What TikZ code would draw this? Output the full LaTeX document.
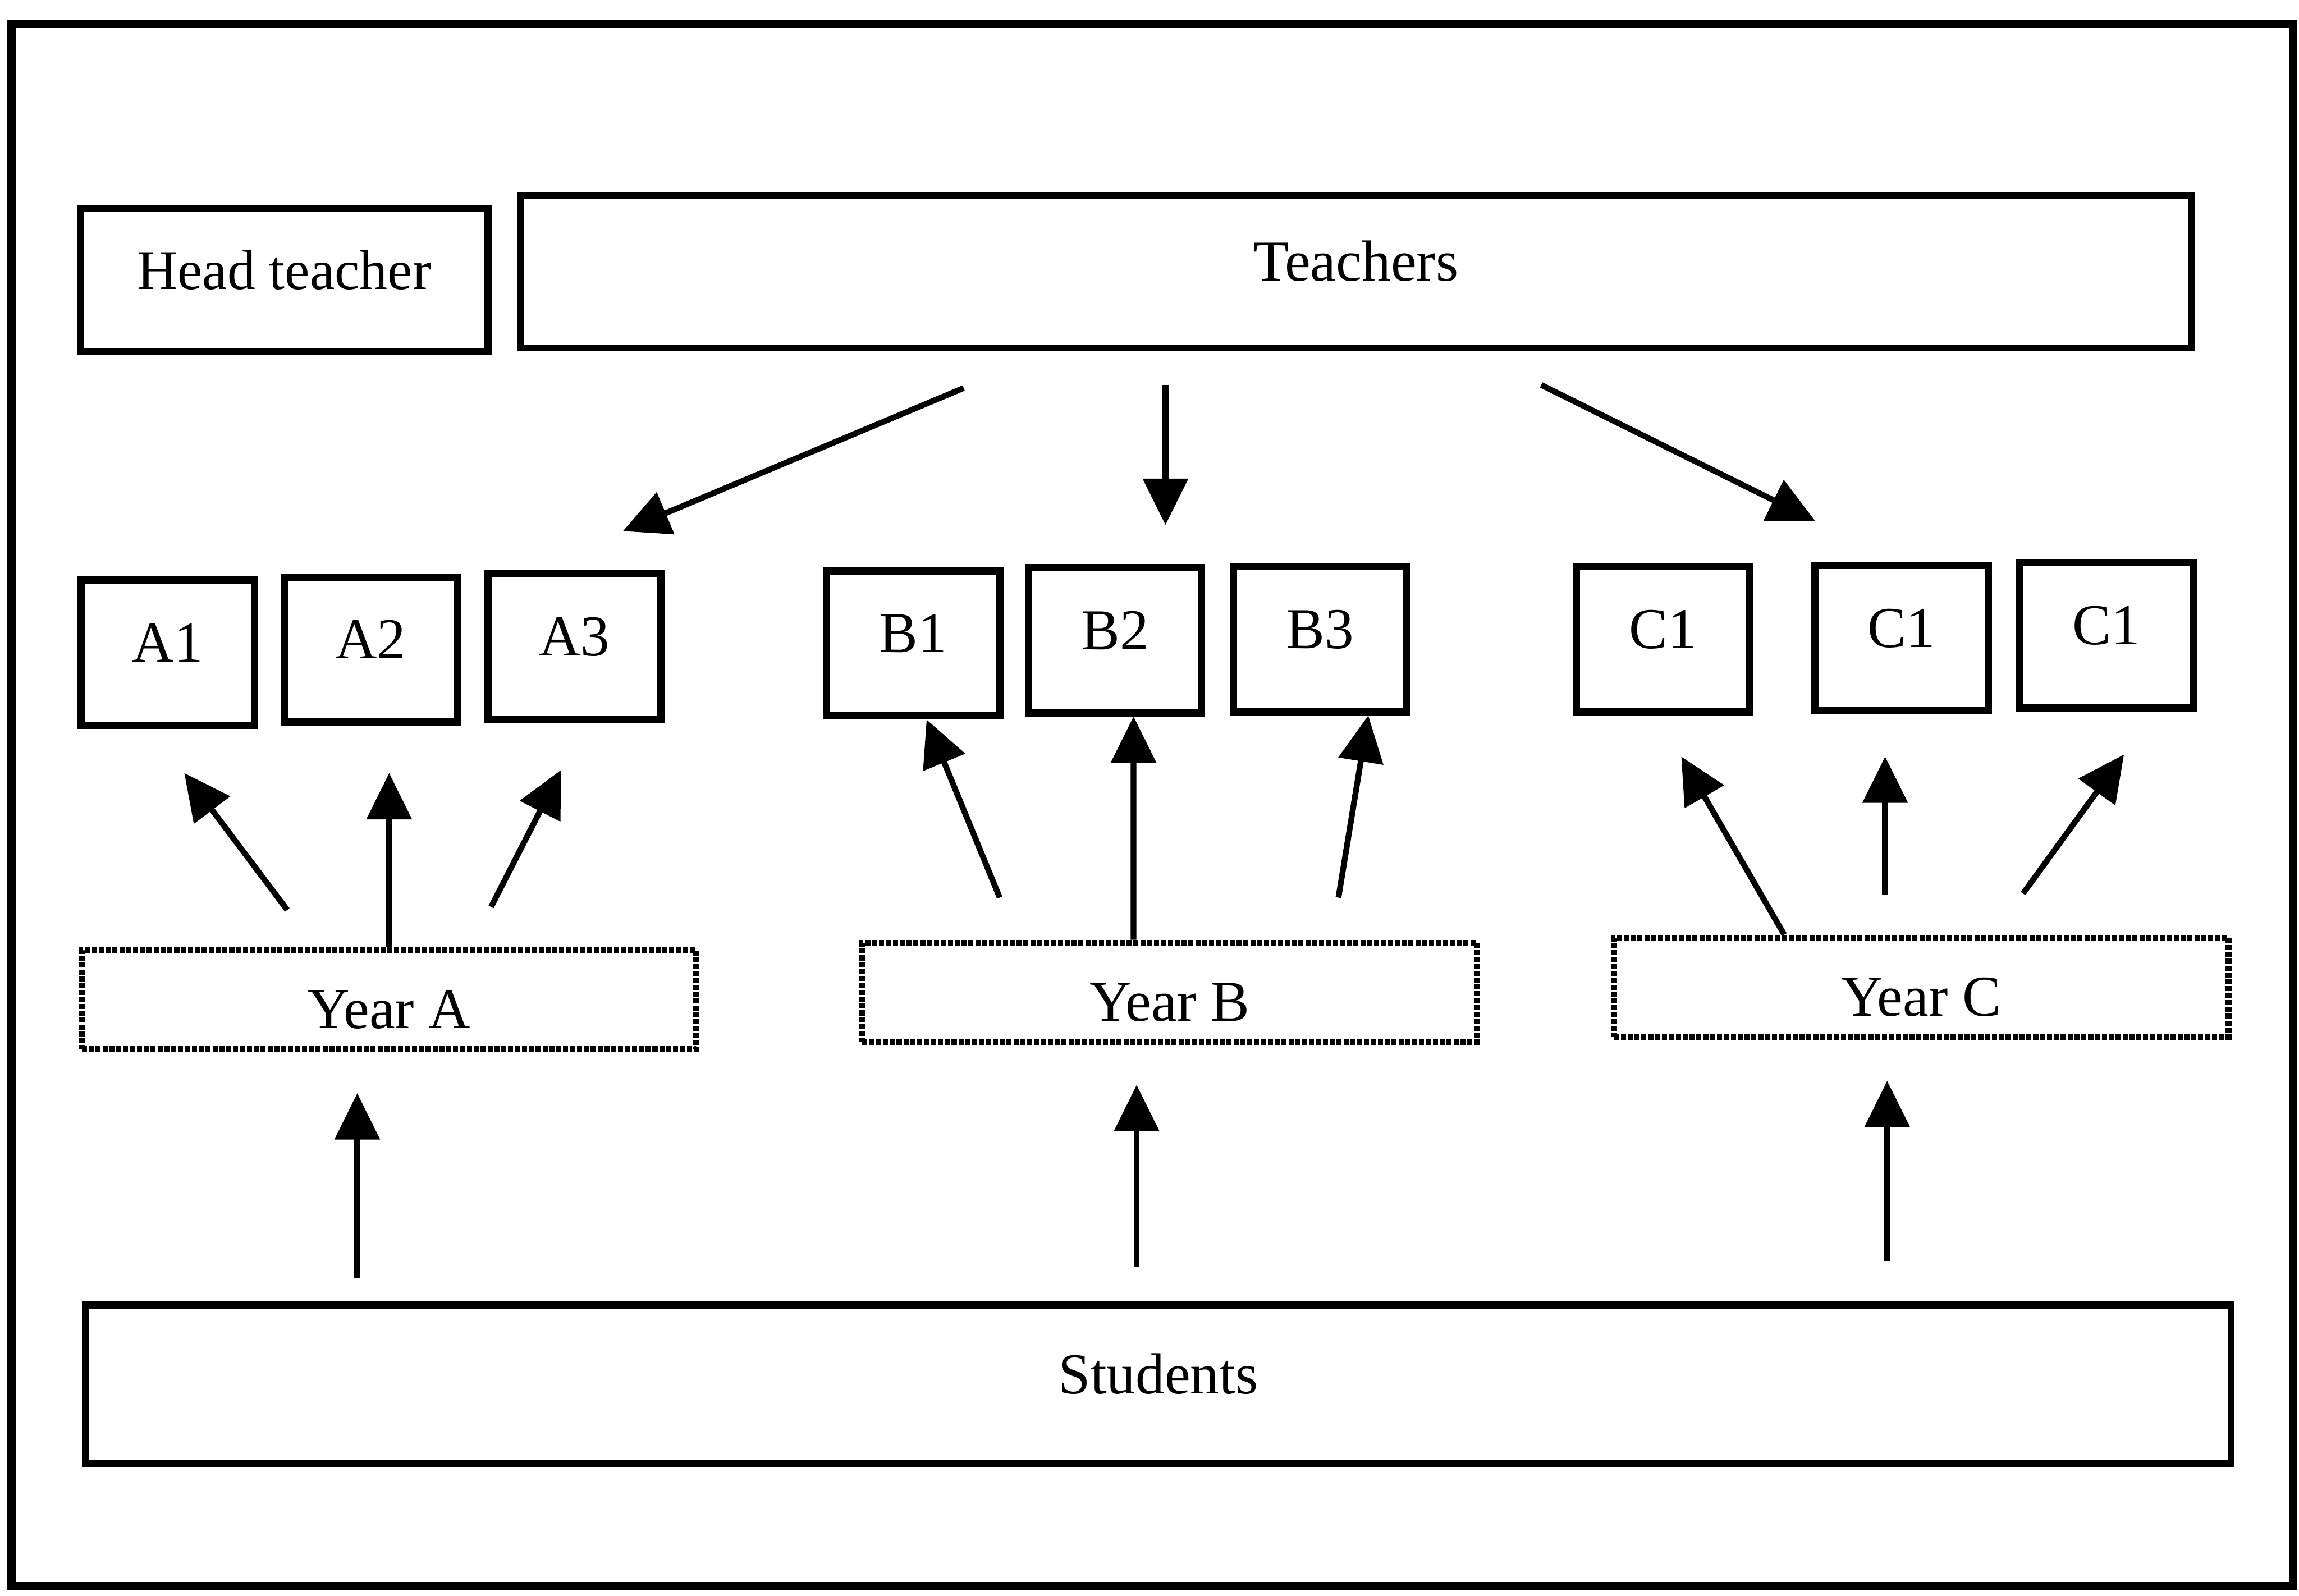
\documentclass[tikz,border=0pt]{standalone}
\usepackage{fontspec}
\setmainfont{Liberation Serif}
\usetikzlibrary{arrows.meta}
\tikzset{
  box/.style={draw, line width=2pt, inner sep=0pt, text height=0.4cm, text depth=0.22cm},
  cls/.style={box, minimum width=1.68cm, minimum height=1.41cm},
  yearbox/.style={draw, line width=1.7pt, dash pattern=on 1.4pt off 0.5pt, inner sep=0pt,
    minimum width=5.97cm, minimum height=0.96cm, text height=0.56cm, text depth=0pt},
  up/.style={-{Triangle[length=0.45cm,width=0.43cm]}, line width=1.6pt}
}
\begin{document}
\begin{tikzpicture}[font=\fontsize{16}{19}\selectfont]
  \useasboundingbox (0,0) rectangle (22.33,15.5);
  \draw[line width=2.3pt] (0.11,0.09) rectangle (22.27,15.27);

  \node[box, minimum width=3.96cm, minimum height=1.39cm] (HT) at (2.76,12.78) {\fontsize{15.5}{18}\selectfont Head teacher};
  \node[box, minimum width=16.23cm, minimum height=1.48cm] (T) at (13.17,12.86) {Teachers};

  \node[cls] (A1) at (1.63,9.16) {A1};
  \node[cls] (A2) at (3.60,9.19) {A2};
  \node[cls] (A3) at (5.58,9.22) {A3};
  \node[cls] (B1) at (8.87,9.25) {B1};
  \node[cls] (B2) at (10.83,9.28) {B2};
  \node[cls] (B3) at (12.82,9.29) {B3};
  \node[cls] (C1) at (16.15,9.29) {C1};
  \node[cls] (C2) at (18.47,9.30) {C1};
  \node[cls] (C3) at (20.46,9.33) {C1};

  \node[yearbox] (YA) at (3.78,5.79) {Year A};
  \node[yearbox] (YB) at (11.36,5.86) {Year B};
  \node[yearbox] (YC) at (18.66,5.91) {Year C};

  \node[box, minimum width=20.84cm, minimum height=1.54cm] (S) at (11.25,2.05) {Students};

  \coordinate (T1) at (9.36,11.73);
  \coordinate (T2) at (11.32,11.76);
  \coordinate (T3) at (14.97,11.76);
  \coordinate (TA) at (6.05,10.34);
  \coordinate (TB) at (11.32,10.40);
  \coordinate (TC) at (17.63,10.44);
  \draw[up] (T1) -- (TA);
  \draw[up] (T2) -- (TB);
  \draw[up] (T3) -- (TC);

  \coordinate (YA1) at (2.79,6.66);
  \coordinate (YA3) at (4.77,6.69);
  \coordinate (EA1) at (1.79,7.99);
  \coordinate (EA2) at (3.78,7.99);
  \coordinate (EA3) at (5.45,8.02);
  \draw[up] (YA1) -- (EA1);
  \draw[up] (YA.north) -- (EA2);
  \draw[up] (YA3) -- (EA3);

  \coordinate (YB1) at (9.71,6.78);
  \coordinate (YB3) at (13.00,6.78);
  \draw[up] (YB1) -- ([xshift=1.3mm]B1.south);
  \draw[up] ([xshift=-3.5mm]YB.north) -- ([xshift=1.8mm]B2.south);
  \draw[up] (YB3) -- ([xshift=4.7mm]B3.south);

  \coordinate (YC2) at (18.31,6.81);
  \coordinate (YC3) at (19.65,6.82);
  \coordinate (EC1) at (16.33,8.15);
  \coordinate (EC2) at (18.31,8.15);
  \coordinate (EC3) at (20.63,8.17);
  \draw[up] ([xshift=-13.3mm]YC.north) -- (EC1);
  \draw[up] (YC2) -- (EC2);
  \draw[up] (YC3) -- (EC3);

  \coordinate (S1) at (3.47,3.08);
  \coordinate (S2) at (11.04,3.19);
  \coordinate (S3) at (18.33,3.25);
  \coordinate (EY1) at (3.47,4.88);
  \coordinate (EY2) at (11.04,4.96);
  \coordinate (EY3) at (18.33,5.00);
  \draw[up] (S1) -- (EY1);
  \draw[up] (S2) -- (EY2);
  \draw[up] (S3) -- (EY3);
\end{tikzpicture}
\end{document}
